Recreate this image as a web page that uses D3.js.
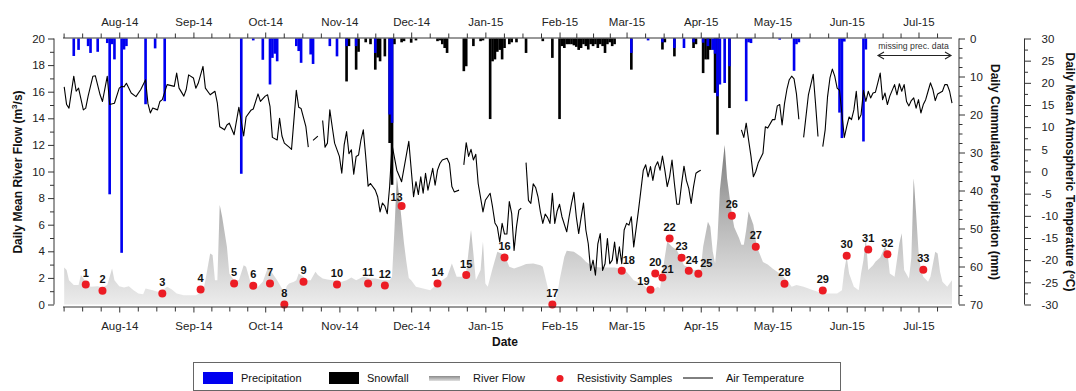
<!DOCTYPE html>
<html><head><meta charset="utf-8">
<script src="https://cdn.jsdelivr.net/npm/d3@7"></script>
<style>
html,body{margin:0;padding:0;background:#fff;}
svg{display:block;font-family:"Liberation Sans",Arial,sans-serif;}
</style></head><body>
<svg id="chart" width="1076" height="391"></svg>
<script>
// Day of record = number of days after 1 July 2014 (UTC).
const recordStart = Date.UTC(2014, 6, 1);

const monthLabels = ["Aug-14","Sep-14","Oct-14","Nov-14","Dec-14","Jan-15","Feb-15","Mar-15","Apr-15","May-15","Jun-15","Jul-15"];

// Daily mean river flow (m3/s)
const flowDay = [8,9,10,12,14,15,17,19,22,24,26,28,29,31,33,35,37,39,41,42,45,47,49,51,53,55,58,61,63,66,67,69,70,71,72,73,74,76,77,79,81,83,84,86,87,89,91,93,94,96,97,99,100,101,102,104,105,106,108,109,111,113,114,116,118,120,122,124,126,128,130,133,136,138,141,144,145,146,147,148,150,151,152,153,155,158,161,164,166,168,170,172,175,176,178,179,180,182,183,184,185,187,189,192,194,196,199,201,204,207,208,210,211,212,214,215,217,218,221,224,226,229,232,235,238,240,243,246,249,251,253,256,257,259,260,262,264,265,267,270,271,274,275,277,278,279,280,281,282,284,285,287,288,290,291,292,293,294,296,297,298,300,302,304,307,310,312,314,317,319,321,323,325,328,331,333,334,335,336,338,340,341,342,343,344,346,347,349,351,352,353,355,357,358,359,361,362,363,364,365,366,367,369,370,372,373,374,375,377,379];
const flowValue = [2.79,2.59,1.83,1.46,1.46,2.21,1.71,1.33,1.38,1.28,1.46,2.71,1.83,1.38,1.28,1.38,1.08,0.83,0.78,1.2,1.08,0.95,1.08,1.33,1.13,0.83,0.7,0.7,0.7,0.95,1.83,3.84,3.72,1.83,1.83,7.49,6.6,4.35,2.33,1.83,1.83,2.96,2.84,1.58,1.38,1.33,1.71,2.71,2.59,2.08,1.83,1.2,0.8,1.4,1.58,1.71,1.83,2.33,2.08,1.83,1.83,2.46,2.21,1.96,1.88,1.83,1.78,1.71,1.83,2.03,1.83,2.08,1.95,1.95,1.85,1.83,2.08,5.6,9.6,8.1,4.6,3.2,2.0,1.83,1.33,1.2,1.08,1.58,1.83,2.08,3.09,2.08,2.08,2.46,5.6,3.84,1.83,2.59,4.72,1.58,1.33,2.71,3.97,3.72,2.84,2.71,2.89,3.04,3.09,2.96,2.84,1.33,0.33,0.07,0.7,1.83,3.59,4.04,3.97,3.59,3.21,2.84,2.79,2.79,2.79,2.71,2.46,1.83,1.58,1.33,0.95,1.33,1.2,3.59,4.72,4.35,4.09,3.72,2.96,2.71,2.59,2.64,4.35,6.23,5.85,4.0,3.1,5.0,8.6,12.0,9.5,6.8,5.8,5.0,4.5,4.5,5.6,7.0,6.0,4.8,4.1,3.2,3.0,2.71,2.33,1.83,1.33,1.46,1.33,1.2,1.08,0.95,0.83,0.83,0.83,1.08,2.59,3.59,2.33,1.33,1.08,2.33,3.34,4.97,2.59,2.96,3.21,3.54,4.35,3.97,2.33,2.08,4.6,5.35,2.59,1.96,3.5,9.5,6.86,4.0,2.6,2.08,1.71,2.08,3.97,3.84,2.46,1.71,1.33,1.83];

// Daily mean air temperature (deg C); null marks days without a record
const tempDay = [8,9,10,12,13,14,16,17,18,20,21,23,24,26,27,29,31,32,33,34,36,38,40,42,43,44,45,47,48,49,51,54,55,56,58,59,60,62,63,64,66,67,69,71,72,73,75,76,77,79,81,83,84,86,87,89,90,92,93,94,95,97,98,99,100,102,103,105,106,107,109,110,111,112,114,115,116,117,118,119,120,121,123,124,125,126,127,128,129,130,131,132,133,134,135,136,138,139,140,141,142,143,144,145,147,149,152,154,155,156,157,158,159,160,162,163,164,165,166,168,169,170,171,173,174,175,176,177,178,179,180,181,183,184,185,186,187,188,189,190,191,192,193,194,195,196,197,198,199,200,201,202,203,204,205,206,207,208,209,210,211,212,213,214,215,216,218,219,220,221,222,223,224,225,226,227,228,229,230,231,232,233,234,235,236,237,238,239,240,241,242,243,244,245,246,248,249,250,251,252,253,254,255,256,257,258,259,260,261,262,263,264,265,266,267,268,269,270,271,272,273,274,275,291,292,293,294,295,296,297,298,300,301,302,304,305,306,307,308,309,310,311,312,313,314,315,316,317,319,320,321,322,323,324,325,326,327,328,329,330,331,332,334,335,336,337,338,339,340,341,342,343,344,345,346,347,348,349,350,351,352,353,355,356,357,358,359,360,361,362,363,364,365,366,367,368,369,370,371,372,373,375,376,377,378,379];
const tempValue = [19.1,15.1,14.3,21.5,18.1,18.8,13.9,14.3,17.0,21.5,21.6,17.3,15.8,21.5,15.1,15.4,18.8,19.2,19.1,19.9,17.7,16.9,18.5,20.7,15.3,13.2,14.3,13.9,15.8,16.2,19.6,19.2,22.2,18.8,17.0,18.5,21.8,21.1,18.8,19.9,23.7,18.8,17.3,18.1,15.4,10.1,9.4,10.5,10.9,8.3,14.5,8.0,12.3,13.8,14.1,17.5,15.8,17.0,17.3,14.7,7.7,7.1,12.0,8.0,6.4,5.5,5.0,18.3,14.5,14.2,10.1,5.5,null,7.0,8.0,null,11.5,5.5,6.4,13.9,10.1,6.4,3.4,-0.4,6.0,9.0,4.0,4.9,-0.6,3.4,3.7,7.1,9.4,3.4,-3.3,-2.7,-4.2,-5.7,-9.1,-7.1,-7.8,-9.5,-3.4,6.0,0.3,-2.3,6.8,-5.7,-2.3,-5.2,-1.2,-4.9,-0.4,-4.2,0.7,-3.1,0.3,1.8,2.6,3.0,1.8,-3.4,-4.6,-4.2,null,1.5,6.5,3.4,5.0,2.6,3.9,-2.7,-9.1,-6.5,-5.7,-4.9,-8.0,-11.6,-12.5,-15.9,-11.7,-14.1,-14.1,-6.8,-9.5,-17.8,-12.5,-8.7,-8.3,null,2.0,-6.5,-7.2,-2.8,-3.6,-5.7,-9.1,-11.7,-9.6,-10.4,-11.7,-4.9,-11.7,-8.9,-7.4,-10.2,-13.6,-10.2,-7.2,-4.7,-10.2,-14.0,-10.4,-7.1,-13.2,-16.3,-22.3,-20.0,-23.4,-16.3,-14.0,-22.3,-20.8,-15.1,-20.8,-20.0,-15.9,-20.8,-17.0,-20.8,-13.2,-11.7,-12.1,-10.2,-17.0,-8.7,-4.2,0.3,1.5,-1.2,1.1,-2.0,1.1,2.2,0.3,3.5,0.3,-3.4,-1.2,2.6,-2.7,-7.4,-7.4,-2.8,1.2,-2.0,-3.8,-7.2,-3.4,-0.4,0.0,0.3,null,9.4,7.7,10.9,7.1,3.4,-1.2,0.0,1.9,4.1,10.1,9.8,11.7,11.7,14.8,15.1,10.5,15.3,18.5,20.7,21.5,20.9,17.5,11.8,null,7.7,17.3,19.6,21.9,15.1,7.9,null,5.6,9.4,16.9,21.1,23.1,21.5,18.8,18.3,7.7,10.1,12.3,11.7,13.9,18.1,11.7,12.8,18.3,15.8,18.1,16.6,17.7,17.9,20.0,22.2,16.2,17.7,15.1,17.0,19.6,17.3,19.8,18.1,19.6,15.8,14.8,16.0,16.6,14.3,16.2,13.2,15.1,16.2,18.1,20.0,18.5,16.0,17.5,18.1,19.6,19.6,18.1,15.4];

// Daily precipitation (mm): rain and snowfall
const precipDay = [12,14,18,19,22,26,27,28,29,32,33,34,42,46,50,82,87,91,94,95,96,97,105,106,107,111,112,119,122,126,127,130,131,134,136,138,139,140,142,144,145,146,149,150,153,155,164,165,166,167,168,175,176,179,182,183,186,187,188,189,190,191,192,194,195,197,201,208,212,215,216,217,218,219,220,221,222,223,224,225,226,227,228,229,230,231,232,233,234,235,236,237,238,245,252,258,259,263,267,271,272,275,276,277,278,279,280,281,282,284,286,293,294,295,307,313,314,315,332,333,334,342,343];
const rainMm = [4.6,3.0,2.0,3.8,3.5,1.2,41.0,1.5,5.5,56.4,2.9,2.0,17.3,2.6,16.5,35.6,0.5,5.6,12.1,5.1,4.0,6.0,2.0,3.3,6.4,4.2,6.7,2.0,4.7,2.0,0,2.0,0,0,0,3.8,0,0,0,20.0,22.2,0,0,0,0,0,0,0,0,0,0,0,0,0,0,0,0,0,0,0,0,0,0,0,0,0,0,0,0,0,0,0,0,0,0,0,0,0,0,0,0,0,0,0,0,0,0,0,0,0,0,0,0,3.8,0.5,1.0,0,2.5,2.5,1.0,0,1.1,0,2.0,0,3.0,4.0,15.2,12.1,11.7,7.3,16.5,1.0,1.2,0.3,8.5,1.5,1.0,19.5,26.2,0.8,27.1,2.9];
const snowMm = [0,0,0,0,0,0,0,0,0,0,0,0,0,0,0,0,0,0,0,0,0,0,0,0,0,0,0,0,0,11.3,2.0,8.2,3.5,1.0,1.5,8.2,5.0,6.0,4.7,27.5,38.5,1.5,1.0,0.7,1.1,0.5,0.7,0.5,1.5,2.5,3.8,8.6,7.3,2.0,0.7,0.5,21.2,6.0,5.5,3.5,3.0,5.5,2.5,1.5,1.0,1.0,3.8,0.7,5.1,21.2,2.0,2.5,1.5,1.5,1.5,1.8,2.2,3.0,2.5,1.5,2.0,2.9,1.5,2.0,1.5,2.5,1.5,2.0,3.8,1.5,1.0,2.0,1.5,8.2,0,2.9,1.0,4.7,0,2.5,1.5,9.1,5.5,5.5,3.0,0,14.3,25.3,0,0,18.3,0,0,0,0,0,0,0,0,0,0,0,0];

// Resistivity sampling dates and the river flow at each (m3/s)
const sampleDate = ["2014-07-18","2014-07-25","2014-08-19","2014-09-04","2014-09-18","2014-09-26","2014-10-03","2014-10-09","2014-10-17","2014-10-31","2014-11-13","2014-11-20","2014-11-27","2014-12-12","2014-12-24","2015-01-09","2015-01-29","2015-02-27","2015-03-11","2015-03-13","2015-03-16","2015-03-19","2015-03-24","2015-03-27","2015-03-31","2015-04-14","2015-04-24","2015-05-06","2015-05-22","2015-06-01","2015-06-10","2015-06-18","2015-07-03"];
const sampleFlow = [1.51,1.03,0.83,1.13,1.58,1.41,1.58,0,1.71,1.51,1.58,1.43,7.41,1.58,2.21,3.54,0,2.54,1.1,2.33,2.03,4.97,3.52,2.54,2.31,6.68,4.34,1.56,1.05,3.67,4.14,3.77,2.61];
const sampleLabel = ["1","2","3","4","5","6","7","8","9","10","11","12","13","14","15","16","17","18","19","20","21","22","23","24","25","26","27","28","29","30","31","32","33"];

const legendLabels = ["Precipitation","Snowfall","River Flow","Resistivity Samples","Air Temperature"];

// ---------------------------------------------------------------------------
const plot = {left: 63, right: 952, top: 38.5, bottom: 304.5};
const axisCol = "#333";
const svg = d3.select("#chart");
const dayDate = d => new Date(recordStart + d * 864e5);
const parseDay = d3.utcParse("%Y-%m-%d");
const parseMonth = d3.utcParse("%b-%y");

const x = d3.scaleUtc()
  .domain([new Date(Date.UTC(2014, 6, 8, 12)), new Date(Date.UTC(2015, 6, 15))])
  .range([plot.left, plot.right]);
const yFlow = d3.scaleLinear().domain([0, 20]).range([plot.bottom, plot.top]);
const yPrec = d3.scaleLinear().domain([0, 70]).range([plot.top, plot.bottom]);
const yTemp = d3.scaleLinear().domain([-30, 30]).range([plot.bottom, plot.top]);

const flow = flowDay.map((d, i) => ({date: dayDate(d), v: flowValue[i]}));
const temp = tempDay.map((d, i) => ({date: dayDate(d), v: tempValue[i]}));
const precip = precipDay.map((d, i) => ({date: dayDate(d), rain: rainMm[i], snow: snowMm[i]}));
const samples = sampleDate.map((d, i) => ({date: parseDay(d), v: sampleFlow[i], label: sampleLabel[i]}));

// gradient for the river-flow area
const defs = svg.append("defs");
const grad = defs.append("linearGradient").attr("id", "flowFill")
  .attr("gradientUnits", "userSpaceOnUse")
  .attr("x1", 0).attr("x2", 0).attr("y1", yFlow(12)).attr("y2", yFlow(0));
grad.append("stop").attr("offset", 0).attr("stop-color", "#7c7c7c");
grad.append("stop").attr("offset", 0.45).attr("stop-color", "#b4b4b4");
grad.append("stop").attr("offset", 1).attr("stop-color", "#ececec");
const lgrad = defs.append("linearGradient").attr("id", "legFlow")
  .attr("x1", 0).attr("x2", 0).attr("y1", 0).attr("y2", 1);
lgrad.append("stop").attr("offset", 0).attr("stop-color", "#8a8a8a");
lgrad.append("stop").attr("offset", 1).attr("stop-color", "#e0e0e0");

// river flow
svg.append("path").datum(flow)
  .attr("fill", "url(#flowFill)")
  .attr("d", d3.area().x(d => x(d.date)).y0(yFlow(0)).y1(d => yFlow(d.v)));

// precipitation bars hang from the top edge
const dayW = x(dayDate(101)) - x(dayDate(100));
const barW = dayW * 1.1;
svg.append("g").selectAll("rect").data(precip.filter(d => d.snow > 0)).join("rect")
  .attr("x", d => x(d.date) - barW / 2).attr("width", barW)
  .attr("y", yPrec(0)).attr("height", d => yPrec(d.snow) - yPrec(0))
  .attr("fill", "#000");
svg.append("g").selectAll("rect").data(precip.filter(d => d.rain > 0)).join("rect")
  .attr("x", d => x(d.date) - barW / 2).attr("width", barW)
  .attr("y", yPrec(0)).attr("height", d => yPrec(d.rain) - yPrec(0))
  .attr("fill", "#0000f0");

// air temperature
svg.append("path").datum(temp)
  .attr("fill", "none").attr("stroke", "#000").attr("stroke-width", 1.1)
  .attr("stroke-linejoin", "round")
  .attr("d", d3.line().defined(d => d.v !== null).x(d => x(d.date)).y(d => yTemp(d.v)));

// resistivity samples
const labelNudge = {"13": [-5, 2.5], "18": [7, 1], "19": [-7, 2.5], "21": [5, 2.5], "24": [3, 1], "25": [8, 1]};
const sg = svg.append("g");
sg.selectAll("circle").data(samples).join("circle")
  .attr("cx", d => x(d.date)).attr("cy", d => yFlow(d.v)).attr("r", 4)
  .attr("fill", "#ec1c24");
sg.selectAll("text").data(samples).join("text")
  .attr("x", d => x(d.date) + (labelNudge[d.label] ? labelNudge[d.label][0] : 0))
  .attr("y", d => yFlow(d.v) - 7.5 + (labelNudge[d.label] ? labelNudge[d.label][1] : 0))
  .attr("text-anchor", "middle").attr("font-size", 11).attr("font-weight", "bold")
  .attr("fill", "#111").text(d => d.label);

// ---- axes -----------------------------------------------------------------
const monthDates = monthLabels.map(m => parseMonth(m));
const quarterTicks = [];
d3.utcMonth.range(new Date(Date.UTC(2014, 6, 1)), new Date(Date.UTC(2015, 7, 1))).forEach(m => {
  const next = d3.utcMonth.offset(m, 1);
  for (let k = 1; k < 4; k++) quarterTicks.push(new Date(+m + (next - m) * k / 4));
});
const minorX = quarterTicks.filter(t => t >= x.domain()[0] && t <= x.domain()[1]);
const fmtMonth = d => monthLabels[monthDates.findIndex(m => +m === +d)];

function styleAxis(g) {
  g.select(".domain").remove();
  g.selectAll("line").attr("stroke", axisCol);
  g.selectAll("text").attr("fill", "#222").attr("font-size", 11.5)
    .attr("font-family", "Liberation Sans, Arial, sans-serif");
}

// top
svg.append("line").attr("x1", plot.left).attr("x2", plot.right)
  .attr("y1", plot.top - 0.5).attr("y2", plot.top - 0.5).attr("stroke", axisCol);
svg.append("g").attr("transform", `translate(0,${plot.top - 0.5})`)
  .call(d3.axisTop(x).tickValues(minorX).tickSize(4.5).tickFormat("")).call(styleAxis);
svg.append("g").attr("transform", `translate(0,${plot.top - 0.5})`)
  .call(d3.axisTop(x).tickValues(monthDates).tickSize(5.5).tickPadding(6.5).tickFormat(fmtMonth)).call(styleAxis);

// bottom
const yb = 307;
svg.append("line").attr("x1", plot.left).attr("x2", plot.right)
  .attr("y1", yb).attr("y2", yb).attr("stroke", axisCol);
svg.append("g").attr("transform", `translate(0,${yb})`)
  .call(d3.axisBottom(x).tickValues(minorX).tickSize(4.5).tickFormat("")).call(styleAxis);
svg.append("g").attr("transform", `translate(0,${yb})`)
  .call(d3.axisBottom(x).tickValues(monthDates).tickSize(5.5).tickPadding(9).tickFormat(fmtMonth)).call(styleAxis);

// left: river flow
const xl = 54;
svg.append("line").attr("x1", xl).attr("x2", xl).attr("y1", plot.top).attr("y2", plot.bottom).attr("stroke", axisCol);
svg.append("g").attr("transform", `translate(${xl},0)`)
  .call(d3.axisLeft(yFlow).tickValues(d3.range(1, 20, 2)).tickSize(4).tickFormat("")).call(styleAxis);
svg.append("g").attr("transform", `translate(${xl},0)`)
  .call(d3.axisLeft(yFlow).tickValues(d3.range(0, 21, 2)).tickSize(6).tickPadding(3)).call(styleAxis);

// right: precipitation
const xp = 959;
svg.append("line").attr("x1", xp).attr("x2", xp).attr("y1", plot.top).attr("y2", plot.bottom).attr("stroke", axisCol);
svg.append("g").attr("transform", `translate(${xp},0)`)
  .call(d3.axisRight(yPrec).tickValues(d3.range(0, 70.1, 2.5).filter(v => v % 10)).tickSize(3.5).tickFormat("")).call(styleAxis);
svg.append("g").attr("transform", `translate(${xp},0)`)
  .call(d3.axisRight(yPrec).tickValues(d3.range(0, 71, 10)).tickSize(6).tickPadding(5)).call(styleAxis);

// far right: temperature
const xt = 1024.5;
const fmtT = d => (d < 0 ? "-" + Math.abs(d) : String(d));
svg.append("line").attr("x1", xt).attr("x2", xt).attr("y1", plot.top).attr("y2", plot.bottom).attr("stroke", axisCol);
svg.append("g").attr("transform", `translate(${xt},0)`)
  .call(d3.axisRight(yTemp).tickValues(d3.range(-27.5, 30, 5)).tickSize(3.5).tickFormat("")).call(styleAxis);
svg.append("g").attr("transform", `translate(${xt},0)`)
  .call(d3.axisRight(yTemp).tickValues(d3.range(-30, 31, 5)).tickSize(6.5).tickPadding(10.5).tickFormat(fmtT)).call(styleAxis);

// ---- titles ---------------------------------------------------------------
const title = (tx, ty, rot) => svg.append("text")
  .attr("transform", `translate(${tx},${ty}) rotate(${rot})`)
  .attr("text-anchor", "middle").attr("font-size", 12).attr("font-weight", "bold").attr("fill", "#111");
const tl = title(22, 172, -90);
tl.append("tspan").text("Daily Mean River Flow (m");
tl.append("tspan").attr("font-size", 8).attr("dy", -5).text("3");
tl.append("tspan").attr("dy", 5).text("/s)");
title(991, 172, 90).text("Daily Cummulative Precipitation (mm)");
const tt = title(1065.5, 172, 90);
tt.append("tspan").text("Daily Mean Atmospheric Temperature (");
tt.append("tspan").attr("font-size", 8).attr("dy", -4).text("o");
tt.append("tspan").attr("dy", 4).text("C)");
svg.append("text").attr("x", 505).attr("y", 346).attr("text-anchor", "middle")
  .attr("font-size", 12).attr("font-weight", "bold").attr("fill", "#111").text("Date");

// missing precipitation note
svg.append("text").attr("x", 913.5).attr("y", 49).attr("text-anchor", "middle")
  .attr("font-size", 8.7).attr("fill", "#333").text("missing prec. data");
const ay = 55.5, ax1 = 878, ax2 = 951;
svg.append("path").attr("fill", "none").attr("stroke", "#222").attr("stroke-width", 1.1)
  .attr("d", `M${ax1},${ay}H${ax2}M${ax1 + 6},${ay - 3.5}L${ax1},${ay}L${ax1 + 6},${ay + 3.5}M${ax2 - 6},${ay - 3.5}L${ax2},${ay}L${ax2 - 6},${ay + 3.5}`);

// ---- legend ---------------------------------------------------------------
const lg = svg.append("g");
lg.append("rect").attr("x", 193.5).attr("y", 362.5).attr("width", 647).attr("height", 28)
  .attr("fill", "#fff").attr("stroke", "#666");
const ly = 378;
lg.append("rect").attr("x", 203).attr("y", ly - 6).attr("width", 30).attr("height", 12).attr("fill", "#0000f0");
lg.append("rect").attr("x", 329).attr("y", ly - 6).attr("width", 30).attr("height", 12).attr("fill", "#000");
lg.append("rect").attr("x", 429).attr("y", ly - 2).attr("width", 31).attr("height", 5).attr("fill", "url(#legFlow)");
lg.append("circle").attr("cx", 560).attr("cy", ly + 0.5).attr("r", 3.5).attr("fill", "#ec1c24");
lg.append("line").attr("x1", 683).attr("x2", 713).attr("y1", ly).attr("y2", ly).attr("stroke", "#000");
const lx = [241, 367, 473, 577, 726];
lg.selectAll("text.leg").data(legendLabels).join("text").attr("class", "leg")
  .attr("x", (d, i) => lx[i]).attr("y", ly + 4).attr("font-size", 11).attr("fill", "#111").text(d => d);
</script>
</body></html>
